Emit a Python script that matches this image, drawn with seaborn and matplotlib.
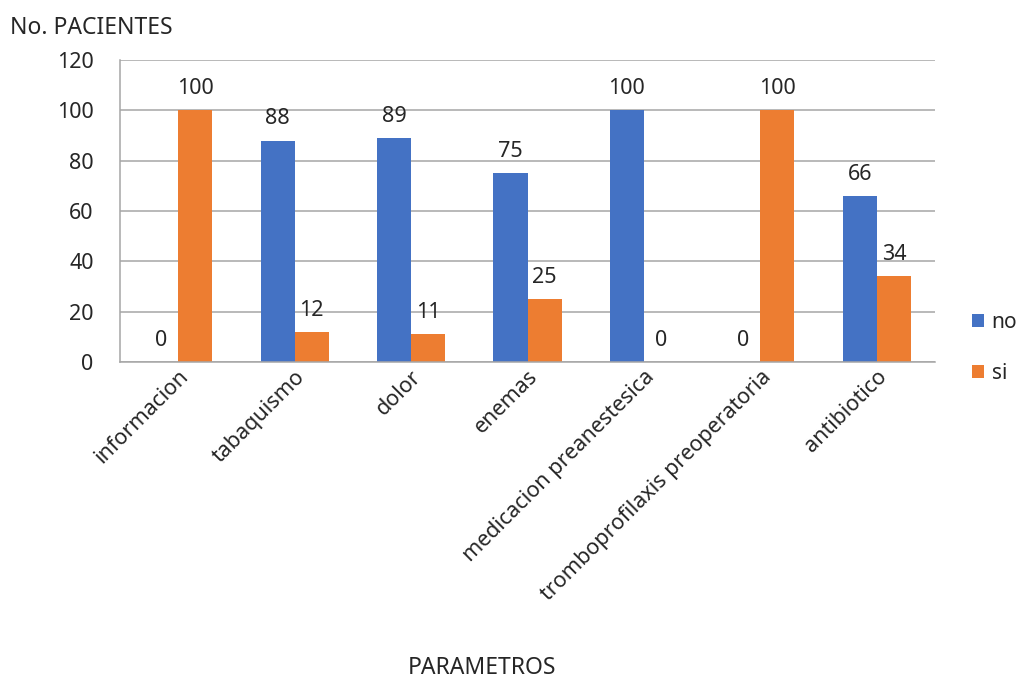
import pandas as pd
import numpy as np
import matplotlib.pyplot as plt
import seaborn as sns
from matplotlib.patches import Patch

# data
categorias = ['informacion', 'tabaquismo', 'dolor', 'enemas',
              'medicacion preanestesica', 'tromboprofilaxis preoperatoria',
              'antibiotico']
valores_no = [0, 88, 89, 75, 100, 0, 66]
valores_si = [100, 12, 11, 25, 0, 100, 34]
series = ['no', 'si']
colores = ['#4472C4', '#ED7D31']
y_ticks = [0, 20, 40, 60, 80, 100, 120]

sns.set_style("white")
plt.rcParams['font.family'] = ['Noto Sans', 'DejaVu Sans']
plt.rcParams['font.size'] = 15.5
plt.rcParams['text.color'] = '#262626'
plt.rcParams['xtick.color'] = '#262626'
plt.rcParams['ytick.color'] = '#262626'

df = pd.DataFrame({
    'Parametro': categorias * 2,
    'Respuesta': ['no'] * len(categorias) + ['si'] * len(categorias),
    'Pacientes': valores_no + valores_si,
})

fig = plt.figure(figsize=(10.22, 6.79), dpi=100)
ax = fig.add_axes([0.1174, 0.4669, 0.7975, 0.4447])

sns.barplot(data=df, x='Parametro', y='Pacientes', hue='Respuesta',
            hue_order=series, palette=colores, width=0.585, gap=0,
            saturation=1, ax=ax, legend=False, linewidth=0)

for cont in ax.containers:
    ax.bar_label(cont, fmt='%g', padding=8, fontsize=15.5)

ax.set_ylim(0, 120)
ax.set_yticks(y_ticks)
ax.set_xlim(-0.5, len(categorias) - 0.5)
ax.yaxis.grid(True, color='#A6A6A6', linewidth=1.1)
ax.set_axisbelow(True)
for s in ['top', 'right']:
    ax.spines[s].set_visible(False)
for s in ['left', 'bottom']:
    ax.spines[s].set_color('#A6A6A6')
    ax.spines[s].set_linewidth(1.1)

ax.tick_params(axis='y', length=7, color='#A6A6A6', width=1.1, labelsize=15.5, pad=12)
ax.set_xticks(np.arange(len(categorias)))
ax.set_xticklabels(categorias, rotation=45, ha='right', rotation_mode='anchor')
ax.tick_params(axis='x', which='major', length=0, labelsize=15.5, pad=3)
ax.set_xticks(np.arange(len(categorias) + 1) - 0.5, minor=True)
ax.tick_params(axis='x', which='minor', length=7, color='#A6A6A6', width=1.1)
ax.set_xlabel('')
ax.set_ylabel('')

fig.text(10 / 1022, 1 - 28 / 679, 'No. PACIENTES', fontsize=16.5, va='center', ha='left')
fig.text(482 / 1022, 1 - 668 / 679, 'PARAMETROS', fontsize=16.5, va='center', ha='center')

handles = [Patch(facecolor=c, edgecolor='none') for c in colores]
fig.legend(handles, series, loc='center left', bbox_to_anchor=(953 / 1022, 1 - 348 / 679),
           frameon=False, fontsize=15, handlelength=0.6, handleheight=0.6,
           labelspacing=1.45, handletextpad=0.35)

fig.savefig('out.png', dpi=100)
